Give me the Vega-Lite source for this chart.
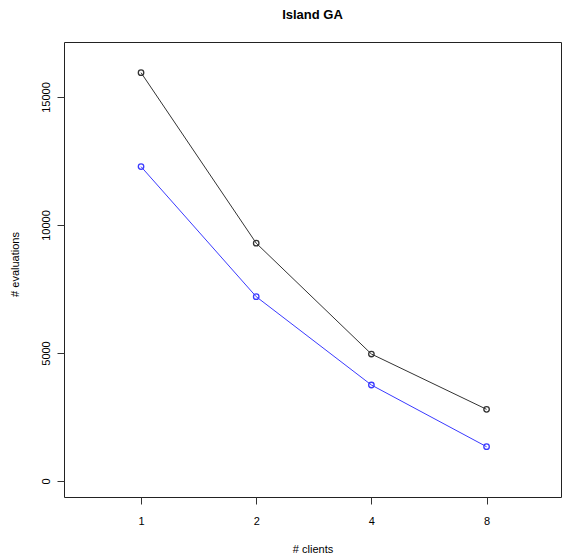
{
  "$schema": "https://vega.github.io/schema/vega-lite/v6.json",
  "autosize": "none",
  "width": 497,
  "height": 455,
  "padding": {"left": 64, "top": 42, "right": 2, "bottom": 63},
  "background": "white",
  "config": {
    "font": "Liberation Sans",
    "view": {"stroke": "#222", "strokeWidth": 1}
  },
  "title": {
    "text": "Island GA",
    "anchor": "middle",
    "font": "Liberation Sans",
    "fontSize": 13,
    "fontWeight": "bold",
    "color": "black",
    "offset": 14,
    "baseline": "middle"
  },
  "data": {
    "values": [
      {"clients": 1, "evaluations": 15950, "series": "a"},
      {"clients": 2, "evaluations": 9290, "series": "a"},
      {"clients": 4, "evaluations": 4960, "series": "a"},
      {"clients": 8, "evaluations": 2800, "series": "a"},
      {"clients": 1, "evaluations": 12280, "series": "b"},
      {"clients": 2, "evaluations": 7200, "series": "b"},
      {"clients": 4, "evaluations": 3750, "series": "b"},
      {"clients": 8, "evaluations": 1340, "series": "b"}
    ]
  },
  "encoding": {
    "x": {
      "field": "clients",
      "type": "quantitative",
      "scale": {"type": "log", "base": 2, "domain": [0.629, 12.52], "nice": false, "zero": false},
      "axis": {
        "values": [1, 2, 4, 8],
        "format": "d",
        "title": "# clients",
        "domain": false,
        "grid": false,
        "tickSize": 7,
        "tickColor": "#333",
        "labelPadding": 11,
        "labelFontSize": 11,
        "labelColor": "black",
        "labelFlush": false,
        "titleFontSize": 11,
        "titleFontWeight": "normal",
        "titleColor": "black",
        "titleX": 248.5,
        "titleY": 52,
        "titleBaseline": "middle",
        "titleAlign": "center"
      }
    },
    "y": {
      "field": "evaluations",
      "type": "quantitative",
      "scale": {"domain": [-625, 17148], "nice": false, "zero": false},
      "axis": {
        "values": [0, 5000, 10000, 15000],
        "format": "d",
        "title": "# evaluations",
        "domain": false,
        "grid": false,
        "tickSize": 7,
        "tickColor": "#333",
        "labelAngle": -90,
        "labelAlign": "center",
        "labelBaseline": "bottom",
        "labelPadding": 6,
        "labelFontSize": 11,
        "labelColor": "black",
        "labelFlush": false,
        "titleFontSize": 11,
        "titleFontWeight": "normal",
        "titleColor": "black",
        "titleAngle": -90,
        "titleX": -49,
        "titleY": 222,
        "titleBaseline": "middle",
        "titleAlign": "center"
      }
    },
    "color": {
      "field": "series",
      "type": "nominal",
      "scale": {"domain": ["a", "b"], "range": ["#333333", "#3a3aff"]},
      "legend": null
    }
  },
  "layer": [
    {"mark": {"type": "line", "strokeWidth": 1}},
    {"mark": {"type": "point", "shape": "circle", "filled": false, "size": 30, "strokeWidth": 1.3, "opacity": 1}}
  ]
}
